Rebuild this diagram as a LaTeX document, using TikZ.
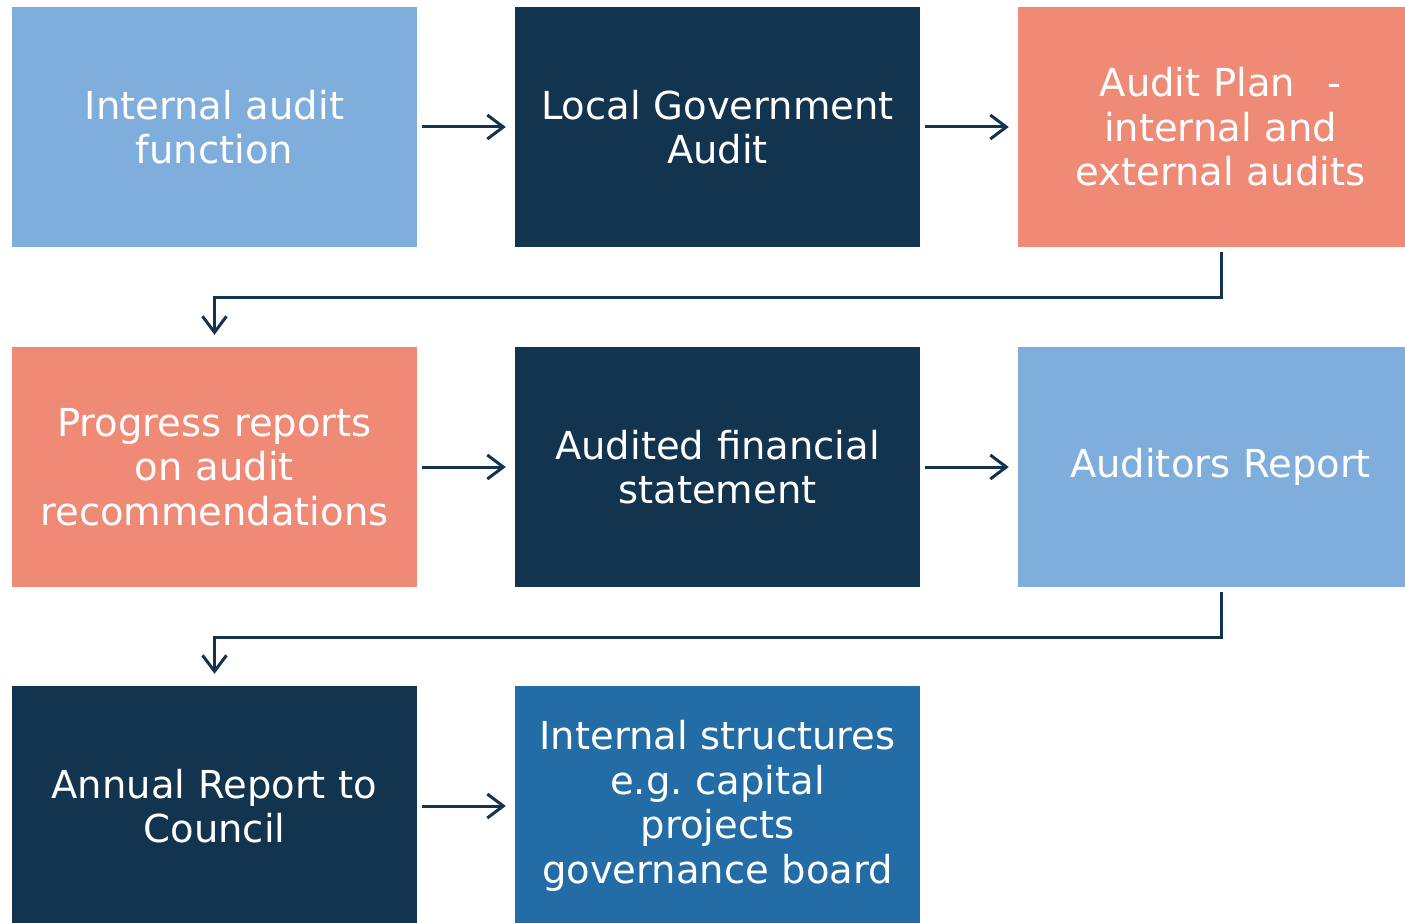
\documentclass[tikz,border=0pt]{standalone}
\usepackage{fontspec}
\setmainfont{DejaVu Sans}
\usetikzlibrary{arrows.meta}
\definecolor{lblue}{RGB}{127,174,221}
\definecolor{navy}{RGB}{19,52,79}
\definecolor{salmon}{RGB}{239,138,118}
\definecolor{mblue}{RGB}{35,108,166}
\tikzset{
  box/.style={minimum width=405pt, minimum height=240pt, inner sep=0pt, text=white,
    align=center, text width=395pt, font=\fontsize{38.5}{44.5}\selectfont},
  conn/.style={draw=navy, line width=3pt, -{Straight Barb[length=16pt, width=24pt, line width=3pt]}}
}
\begin{document}
\begin{tikzpicture}[x=1pt,y=-1pt]
\useasboundingbox (0,0) rectangle (1405,923);
\clip (0,0) rectangle (1405,923);
\node[box, fill=lblue] (a) at (214.5,127) {Internal audit\\function};
\node[box, fill=navy] (b) at (717.5,127) {Local Government\\Audit};
\node[box, fill=salmon] (c) at (1220.5,127) {Audit Plan\enspace\ -\\internal and\\external audits};
\node[box, fill=salmon] (d) at (214.5,467) {Progress reports\\on audit\\recommendations};
\node[box, fill=navy] (e) at (717.5,467) {Audited financial\\statement};
\node[box, fill=lblue] (f) at (1220.5,467) {Auditors Report};
\node[box, fill=navy] (g) at (214.5,806) {Annual Report to\\Council};
\node[box, fill=mblue] (h) at (717.5,806) {Internal structures\\e.g.\ capital\\projects\\governance board};
\coordinate (c1) at (1221,297);
\coordinate (f1) at (1221,637);
\draw[conn] ([xshift=5pt]a.east) -- ([xshift=-9pt]b.west);
\draw[conn] ([xshift=5pt]b.east) -- ([xshift=-9pt]c.west);
\draw[conn] ([xshift=5pt]d.east) -- ([xshift=-9pt]e.west);
\draw[conn] ([xshift=5pt]e.east) -- ([xshift=-9pt]f.west);
\draw[conn] ([xshift=5pt]g.east) -- ([xshift=-9pt]h.west);
\draw[conn] ([xshift=0.5pt,yshift=-5pt]c.south) -- (c1) -| ([yshift=12pt]d.north);
\draw[conn] ([xshift=0.5pt,yshift=-5pt]f.south) -- (f1) -| ([yshift=12pt]g.north);
\end{tikzpicture}
\end{document}
